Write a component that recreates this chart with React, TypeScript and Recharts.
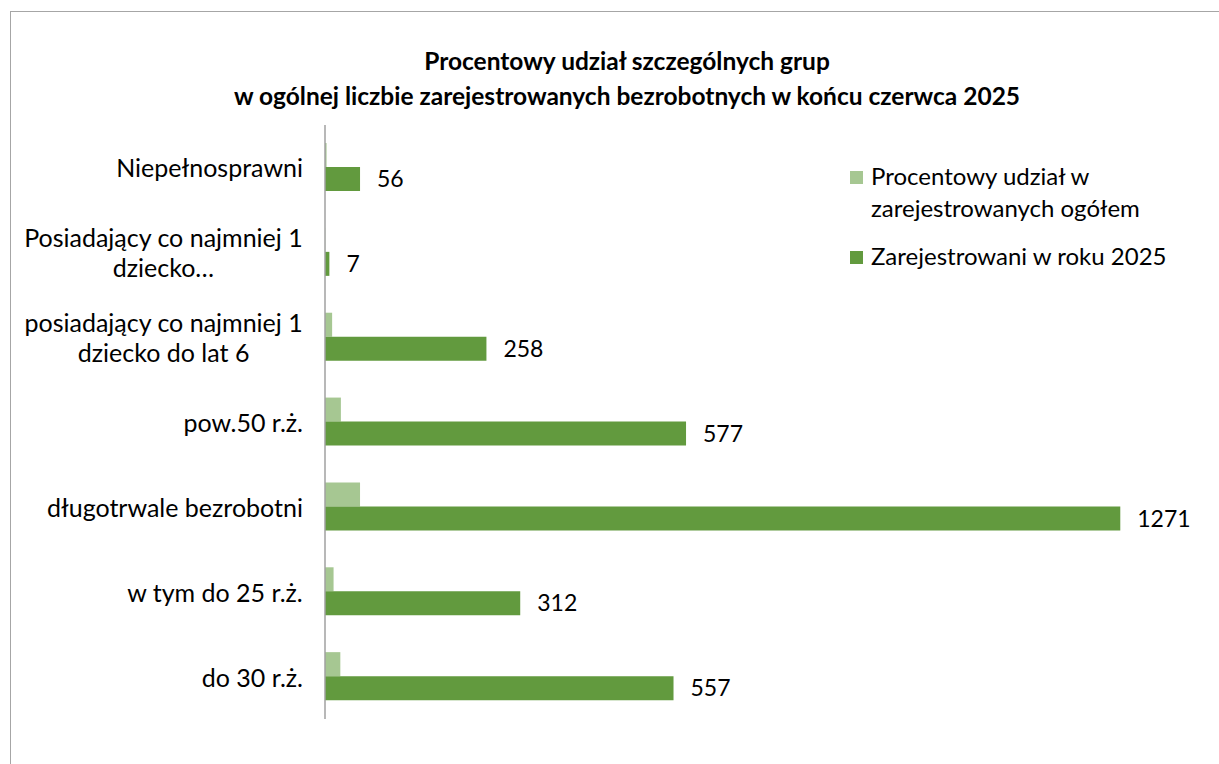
import React from 'react';
import { BarChart, Bar, XAxis, YAxis, LabelList } from 'recharts';

const categories = [
  'Niepełnosprawni',
  'Posiadający co najmniej 1\ndziecko…',
  'posiadający co najmniej 1\ndziecko do lat 6',
  'pow.50 r.ż.',
  'długotrwale bezrobotni',
  'w tym do 25 r.ż.',
  'do 30 r.ż.',
];
const shareValues = [2.5, 0.3, 11.4, 25.4, 56.0, 13.7, 24.5];
const registeredValues = [56, 7, 258, 577, 1271, 312, 557];
const seriesNames = ['Procentowy udział w\nzarejestrowanych ogółem', 'Zarejestrowani w roku 2025'];
const titleLines = [
  'Procentowy udział szczególnych grup',
  'w ogólnej liczbie zarejestrowanych bezrobotnych w końcu czerwca 2025',
];

const data = categories.map((name, i) => ({
  name,
  share: shareValues[i],
  registered: registeredValues[i],
}));

const FONT = 'Lato, "Open Sans", sans-serif';
const FS = 24;
const TICK_FS = 25;
const LIGHT = '#a6c792';
const DARK = '#629a3e';

let ctx: CanvasRenderingContext2D | null = null;
const measure = (t: string) => {
  if (!ctx) {
    const c = document.createElement('canvas');
    ctx = c.getContext('2d');
  }
  if (!ctx) return t.length * 11;
  ctx.font = `${TICK_FS}px Lato`;
  return ctx.measureText(t).width;
};

const CategoryTick = (props: any) => {
  const { x, y, payload } = props;
  const lines: string[] = String(payload.value).split('\n');
  const w = Math.max(...lines.map(measure));
  const cx = x - w / 2;
  const lh = 30;
  const startY = y - ((lines.length - 1) * lh) / 2;
  return (
    <g>
      {lines.map((l, i) => (
        <text
          key={i}
          x={cx}
          y={startY + i * lh}
          textAnchor="middle"
          dominantBaseline="central"
          fontFamily={FONT}
          fontSize={TICK_FS}
          fill="#000"
        >
          {l}
        </text>
      ))}
    </g>
  );
};

const LegendBox = () => {
  const colors = [LIGHT, DARK];
  return (
    <div style={{ position: 'absolute', left: 850, top: 160, fontFamily: FONT, fontSize: FS, color: '#000' }}>
      {seriesNames.map((n, i) => (
        <div key={i} style={{ display: 'flex', alignItems: 'flex-start', marginBottom: i === 0 ? 16 : 0 }}>
          <div style={{ width: 13, height: 13, background: colors[i], marginTop: 11, marginRight: 8, flex: 'none' }} />
          <div style={{ whiteSpace: 'pre', lineHeight: '32px' }}>{n}</div>
        </div>
      ))}
    </div>
  );
};

export default function App() {
  return (
    <div style={{ position: 'fixed', left: 0, top: 0, width: 1219, height: 764, overflow: 'hidden', background: '#fff' }}>
      <div
        style={{
          position: 'absolute',
          left: 10,
          top: 11,
          width: 1400,
          height: 1000,
          border: '1.5px solid #a6a6a6',
          boxSizing: 'border-box',
        }}
      />
      <div
        style={{
          position: 'absolute',
          left: 0,
          width: 1254,
          top: 43,
          textAlign: 'center',
          fontFamily: FONT,
          fontWeight: 'bold',
          fontSize: 24.5,
          lineHeight: '35px',
          color: '#000',
        }}
      >
        {titleLines.map((t, i) => (
          <div key={i}>{t}</div>
        ))}
      </div>
      <div style={{ position: 'absolute', left: 0, top: 0 }}>
        <BarChart
          width={1219}
          height={764}
          data={data}
          layout="vertical"
          margin={{ top: 125, right: 18, bottom: 45, left: 25 }}
          barGap={0}
        >
          <XAxis type="number" hide domain={[0, 1400]} />
          <YAxis
            type="category"
            dataKey="name"
            width={300}
            axisLine={{ stroke: '#a0a0a0', strokeWidth: 1.5 }}
            tickLine={false}
            tickSize={0}
            tickMargin={22}
            tick={<CategoryTick />}
            interval={0}
          />
          <Bar dataKey="share" name={seriesNames[0]} fill={LIGHT} barSize={24} isAnimationActive={false} />
          <Bar dataKey="registered" name={seriesNames[1]} fill={DARK} barSize={24} isAnimationActive={false}>
            <LabelList
              dataKey="registered"
              position="right"
              offset={17}
              fill="#000"
              fontFamily={FONT}
              fontSize={23}
            />
          </Bar>
        </BarChart>
      </div>
      <LegendBox />
    </div>
  );
}
